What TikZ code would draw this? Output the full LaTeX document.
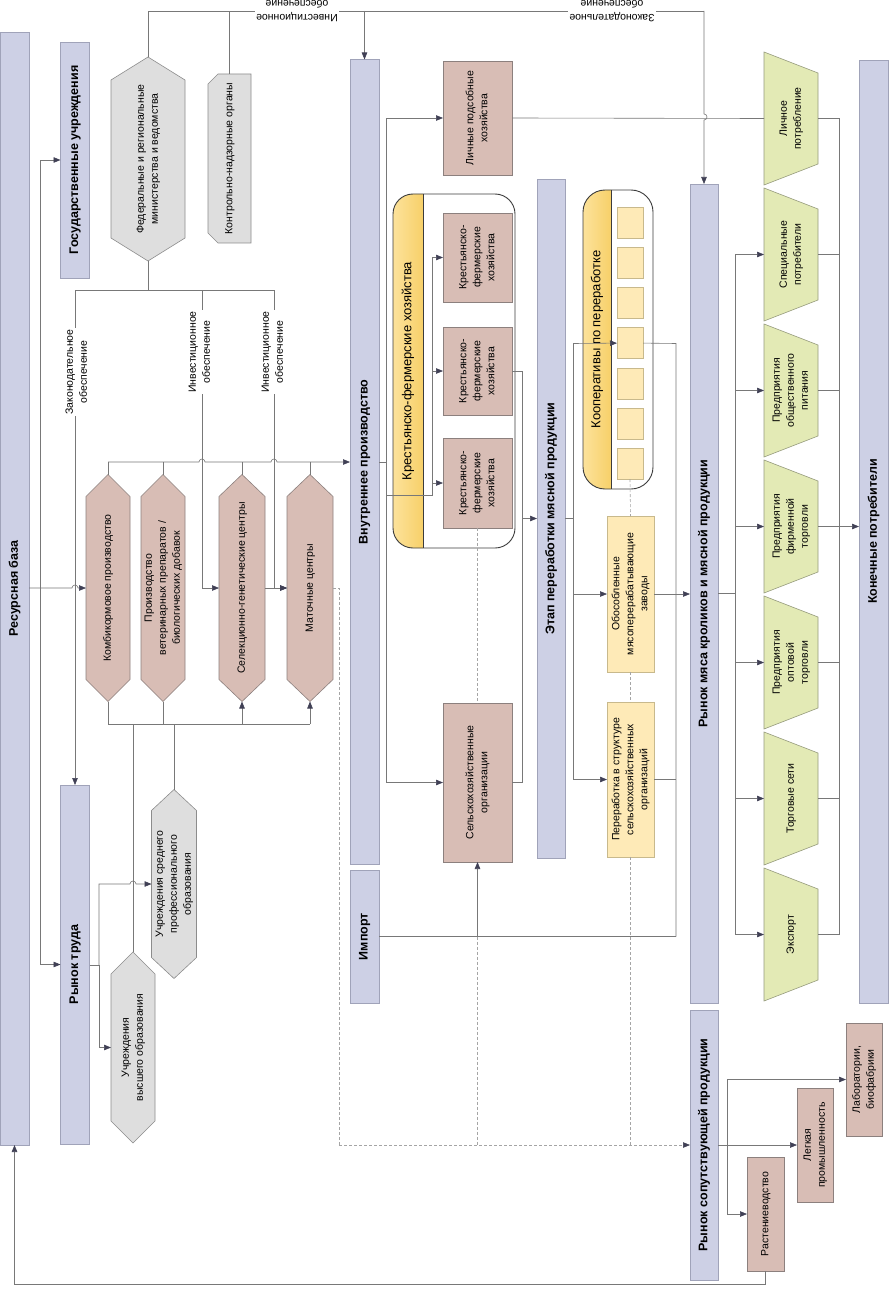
\documentclass[tikz,border=0pt]{standalone}
\usepackage{fontspec}
\setmainfont{Liberation Sans}
\usepackage{graphicx}
\usetikzlibrary{arrows.meta}
\definecolor{barblue}{RGB}{205,208,229}
\definecolor{barline}{RGB}{160,163,185}
\definecolor{pinkfill}{RGB}{216,189,181}
\definecolor{pinkline}{RGB}{140,128,126}
\definecolor{grayfill}{RGB}{222,222,222}
\definecolor{grayline}{RGB}{140,140,140}
\definecolor{greenfill}{RGB}{227,234,181}
\definecolor{greenline}{RGB}{150,155,125}
\definecolor{cellfill}{RGB}{254,234,183}
\definecolor{cellline}{RGB}{200,185,140}
\definecolor{bandL}{RGB}{252,226,155}
\definecolor{bandR}{RGB}{247,208,105}
\definecolor{linegray}{RGB}{120,120,120}
\definecolor{arrowdark}{RGB}{64,64,85}
\definecolor{dashgray}{RGB}{165,165,165}
\definecolor{grpline}{RGB}{60,60,60}
\newcommand\rt[1]{\rotatebox{90}{\begin{tabular}{@{}c@{}}#1\end{tabular}}}
\tikzset{
  txt/.style={inner sep=0pt, outer sep=0pt, font=\fontsize{10.5}{14}\selectfont},
  bar/.style={draw=barline, fill=barblue, line width=0.6pt, inner sep=0pt, outer sep=0pt, font=\fontsize{12.5}{15}\selectfont\bfseries},
  pinkbox/.style={txt, draw=pinkline, fill=pinkfill, line width=0.6pt},
  yelbox/.style={txt, draw=cellline, fill=cellfill, line width=0.6pt},
  pinkhex/.style={draw=pinkline, fill=pinkfill, line width=0.6pt},
  grayhex/.style={draw=grayline, fill=grayfill, line width=0.6pt},
  trapst/.style={draw=greenline, fill=greenfill, line width=0.6pt},
  cell/.style={draw=cellline, fill=cellfill, line width=0.6pt, inner sep=0pt, outer sep=0pt, minimum width=26, minimum height=31},
  grp/.style={draw=grpline, line width=0.9pt},
  ln/.style={draw=linegray, line width=0.6pt},
  arr/.style={ln, -{Triangle[length=7pt,width=5.5pt,color=arrowdark]}},
  dsh/.style={draw=dashgray, line width=0.6pt, dash pattern=on 3pt off 2pt},
  lbl/.style={txt, fill=white, inner sep=1pt},
}
\newcommand\hexa[8]{%
  \path[#1] ({#3},{#4-#6/2}) -- ({#3+#5/2},{#4-#6/2+#7}) -- ({#3+#5/2},{#4+#6/2-#7}) -- ({#3},{#4+#6/2}) -- ({#3-#5/2},{#4+#6/2-#7}) -- ({#3-#5/2},{#4-#6/2+#7}) -- cycle;
  \node[txt,minimum width=#5,minimum height=#6] (#2) at (#3,#4) {\rt{#8}};}
\newcommand\trap[3]{%
  \path[trapst] (764,{#2-66.5}) -- (818,{#2-45.5}) -- (818,{#2+45.5}) -- (764,{#2+66.5}) -- cycle;
  \node[txt,minimum width=54,minimum height=133] (#1) at (791,#2) {\rt{#3}};}
\begin{document}
\begin{tikzpicture}[x=1pt,y=-1pt]
\useasboundingbox (0,0) rectangle (888,1289);
\fill[white] (0,0) rectangle (888,1289);

% ---------- bars
\node[bar, minimum width=29, minimum height=1113] (res) at (14.5,588.5) {\rotatebox{90}{Ресурсная база}};
\node[bar, minimum width=29, minimum height=236] (gov) at (75,160) {\rotatebox{90}{Государственные учреждения}};
\node[bar, minimum width=29, minimum height=359] (labor) at (75,964.5) {\rotatebox{90}{Рынок труда}};
\node[bar, minimum width=29, minimum height=805] (vnut) at (364.5,462) {\rotatebox{90}{Внутреннее производство}};
\node[bar, minimum width=29, minimum height=133] (import) at (364.5,936.5) {\rotatebox{90}{Импорт}};
\node[bar, minimum width=28, minimum height=679] (etap) at (551,518.5) {\rotatebox{90}{Этап переработки мясной продукции}};
\node[bar, minimum width=28, minimum height=819] (rynok) at (704,593.5) {\rotatebox{90}{Рынок мяса кроликов и мясной продукции}};
\node[bar, minimum width=28, minimum height=270] (soput) at (704,1145) {\rotatebox{90}{Рынок сопутствующей продукции}};
\node[bar, minimum width=29, minimum height=943] (konech) at (873.5,531.5) {\rotatebox{90}{Конечные потребители}};

% ---------- hexagons
\hexa{grayhex}{fed}{148}{159}{74}{204}{23}{Федеральные и региональные\\министерства и ведомства}
\path[grayhex] (208,84) -- (218,74) -- (251,74) -- (251,243) -- (218,243) -- (208,233) -- cycle;
\node[txt, minimum width=43, minimum height=169] (kontrol) at (229.5,158.5) {\rt{Контрольно-надзорные органы}};
\hexa{pinkhex}{kombi}{108}{588}{44}{227}{22}{Комбикормовое производство}
\hexa{pinkhex}{vet}{163}{588}{44}{227}{22}{Производство\\ветеринарных препаратов /\\биологических добавок}
\hexa{pinkhex}{selek}{242}{588}{46}{227}{22}{Селекционно-генетические центры}
\hexa{pinkhex}{matoch}{310}{588}{46}{227}{22}{Маточные центры}
\hexa{grayhex}{sred}{174}{884}{45}{189}{21}{Учреждения среднего\\профессионального\\образования}
\hexa{grayhex}{vysh}{133}{1047.5}{44}{191}{22}{Учреждения\\высшего образования}

% ---------- KFH group
\begin{scope}
  \clip[rounded corners=20pt] (393,194) rectangle (515,548);
  \fill[white] (393,194) rectangle (515,548);
  \shade[left color=bandL, right color=bandR] (393,194) rectangle (423,548);
\end{scope}
\draw[grp] (423,194) -- (423,548);
\draw[grp, rounded corners=20pt] (393,194) rectangle (515,548);
\node[inner sep=0pt, minimum width=122, minimum height=354] (kfhgrp) at (454,371) {};
\node[inner sep=0pt, font=\fontsize{13}{15}\selectfont] (kfhlbl) at (408,371) {\rotatebox{90}{Крестьянско-фермерские хозяйства}};

% ---------- Cooperatives group
\begin{scope}
  \clip[rounded corners=22pt] (583,190) rectangle (653,489);
  \fill[white] (583,190) rectangle (653,489);
  \shade[left color=bandL, right color=bandR] (583,190) rectangle (611,489);
\end{scope}
\draw[grp] (611,190) -- (611,489);
\draw[grp, rounded corners=22pt] (583,190) rectangle (653,489);
\node[inner sep=0pt, minimum width=70, minimum height=299] (coopgrp) at (618,339.5) {};
\node[inner sep=0pt, font=\fontsize{13}{15}\selectfont] (cooplbl) at (597,339.5) {\rotatebox{90}{Кооперативы по переработке}};
\foreach \i in {1,...,7} \node[cell] (c\i) at (630,{222.5+40.2*(\i-1)}) {};

% ---------- boxes
\node[pinkbox, minimum width=69, minimum height=114] (lph) at (477.5,118) {\rt{Личные подсобные\\хозяйства}};
\node[pinkbox, minimum width=69, minimum height=89] (kfh1) at (477.5,257.5) {\rt{Крестьянско-\\фермерские\\хозяйства}};
\node[pinkbox, minimum width=69, minimum height=88] (kfh2) at (477.5,371) {\rt{Крестьянско-\\фермерские\\хозяйства}};
\node[pinkbox, minimum width=69, minimum height=90] (kfh3) at (477.5,483) {\rt{Крестьянско-\\фермерские\\хозяйства}};
\node[pinkbox, minimum width=69, minimum height=159] (selhoz) at (477.5,782.5) {\rt{Сельскохозяйственные\\организации}};
\node[yelbox, minimum width=47, minimum height=156] (obos) at (630.5,594) {\rt{Обособленные\\мясоперерабатывающие\\заводы}};
\node[yelbox, minimum width=47, minimum height=155] (perer) at (630.5,779.5) {\rt{Переработка в структуре\\сельскохозяйственных\\организаций}};
\node[pinkbox, minimum width=37, minimum height=114] (rast) at (765.5,1214) {\rt{Растениеводство}};
\node[pinkbox, minimum width=36, minimum height=114] (legk) at (815,1145) {\rt{Легкая\\промышленность}};
\node[pinkbox, minimum width=36, minimum height=113] (lab) at (864,1079.5) {\rt{Лаборатории,\\биофабрики}};

% ---------- trapezoids
\trap{t1}{118.5}{Личное\\потребление}
\trap{t2}{254.5}{Специальные\\потребители}
\trap{t3}{390.5}{Предприятия\\общественного\\питания}
\trap{t4}{526.5}{Предприятия\\фирменной\\торговли}
\trap{t5}{662.5}{Предприятия\\оптовой\\торговли}
\trap{t6}{798.5}{Торговые сети}
\trap{t7}{934.5}{Экспорт}

% ---------- connectors: top
\draw[ln] (fed.north) -- (148,11) -- (704,11);
\draw[arr] (704,11) -- (704,114) arc[start angle=90, end angle=-90, radius=3pt] -- (rynok.north);
\draw[ln] (kontrol.north) -- (kontrol.north |- 0,11);
\draw[arr] (vnut.north |- 0,11) -- (vnut.north);

% government supports
\draw[ln] (fed.south) -- (148,290);
\draw[ln] (75,290) -- (274,290);
\draw[arr] (75,290) -- (labor.north);
\draw[arr] (202,290) |- (selek.west);
\draw[arr] (274,290) |- (matoch.west);
\draw[arr] (selek.east) -- (matoch.west);

% resource base
\draw[arr] (res.east |- kombi.west) -- (72,588) arc[start angle=180, end angle=0, radius=3pt] -- (kombi.west);
\draw[arr] (40,588) |- (gov.west);
\draw[arr] (40,588) |- (labor.west);

% upper bus
\draw[arr] (kombi.north |- 0,462) -- (199,462) arc[start angle=180, end angle=0, radius=3pt] -- (271,462) arc[start angle=180, end angle=0, radius=3pt] -- (vnut.west);
\draw[ln] (kombi.north) -- (kombi.north |- 0,462);
\draw[ln] (vet.north) -- (vet.north |- 0,462);
\draw[ln] (selek.north) -- (selek.north |- 0,462);
\draw[ln] (matoch.north) -- (matoch.north |- 0,462);

% lower bus
\draw[ln] (kombi.south) |- (matoch.south |- 0,724);
\draw[ln] (vet.south) -- (vet.south |- 0,724);
\draw[arr] (selek.south |- 0,724) -- (selek.south);
\draw[arr] (matoch.south |- 0,724) -- (matoch.south);
\draw[ln] (vysh.north |- 0,724) -- (vysh.north);
\draw[ln] (sred.north |- 0,724) -- (sred.north);

% labour market -> education
\draw[ln] (labor.east |- 0,965) -- (99,965);
\draw[arr] (99,965) |- (130,884) arc[start angle=180, end angle=0, radius=3pt] -- (sred.west);
\draw[arr] (99,965) |- (vysh.west);

% internal production
\draw[ln] (vnut.east) -- (386,462);
\draw[arr] (386,462) |- (lph.west);
\draw[arr] (386,462) |- (selhoz.west);
\coordinate (jk) at (432,495);
\draw[ln] (386,495) -- (jk) -- (jk |- kfh1.west);
\draw[arr] (jk |- kfh1.west) -- (kfh1.west);
\draw[arr] (jk |- kfh2.west) -- (kfh2.west);
\draw[arr] (jk |- kfh3.west) -- (kfh3.west);

% to processing stage
\draw[ln] (kfh2.east) -- (522,371) -- (522,782.5) -- (selhoz.east);
\draw[arr] (522,518.5) -- (etap.west);
\draw[ln] (etap.east) -- (573,518.5);
\draw[ln] (573,343.5) -- (573,779.5);
\draw[arr] (573,343.5) -- (c4.west);
\draw[arr] (obos.west -| 573,0) -- (obos.west);
\draw[arr] (perer.west -| 573,0) -- (perer.west);
\draw[ln] (c4.east) -- (676,343.5) -- (676,936.5);
\draw[arr] (obos.east) -- (obos.east -| rynok.west);
\draw[ln] (perer.east) -- (perer.east -| 676,0);
\draw[ln] (import.east) -- (676,936.5);
\draw[arr] (selhoz.south |- import.east) -- (selhoz.south);

% market -> consumers
\draw[ln] (rynok.east) -- (735,593.5);
\draw[ln] (735,254.5) -- (735,934.5);
\foreach \t in {t2,t3,t4,t5,t6,t7} \draw[arr] (\t.west -| 735,0) -- (\t.west);
\draw[ln] (lph.east) -- (t1.west);
\foreach \t in {t1,t2,t3,t4,t5,t6,t7} \draw[ln] (\t.east) -- (\t.east -| 839,0);
\draw[ln] (839,118.5) -- (839,934.5);
\draw[arr] (t4.east -| 839,0) -- (t4.east -| konech.west);

% by-products
\draw[ln] (soput.east) -- (727,1145);
\draw[ln] (727,1079.5) -- (727,1214);
\draw[arr] (lab.west -| 727,0) -- (lab.west);
\draw[arr] (legk.west -| 727,0) -- (legk.west);
\draw[arr] (rast.west -| 727,0) -- (rast.west);
\draw[arr] (rast.south) |- (res.south |- 0,1284) -- (res.south);

% dashed flows
\draw[dsh] (matoch.east) -- (339,588) -- (339,1145);
\draw[dsh, -{Triangle[length=7pt,width=5.5pt,color=arrowdark]}] (339,1145) -- (soput.west);
\draw[dsh] (kfh3.south) -- (selhoz.north);
\draw[dsh] (selhoz.south |- import.east) -- (477.5,1145);
\draw[dsh] (c7.south) -- (obos.north);
\draw[dsh] (obos.south) -- (perer.north);
\draw[dsh] (perer.south) -- (630.5,1145);

% ---------- line labels
\node[lbl, rotate=180, align=center] (ltop1) at (297,11) {Инвестиционное\\обеспечение};
\node[lbl, rotate=180, align=center] (ltop2) at (612,11) {Законодательное\\обеспечение};
\node[lbl] (lzak) at (77,372) {\rt{Законодательное\\обеспечение}};
\node[lbl] (linv1) at (200,352) {\rt{Инвестиционное\\обеспечение}};
\node[lbl] (linv2) at (273,352) {\rt{Инвестиционное\\обеспечение}};
\end{tikzpicture}
\end{document}
